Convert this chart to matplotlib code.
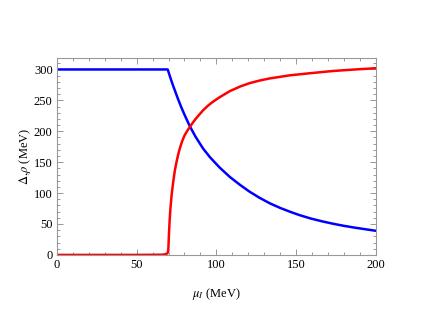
import matplotlib
matplotlib.use("Agg")
import matplotlib.pyplot as plt
from matplotlib.ticker import MultipleLocator

# Data
mu_blue = [0, 69.5, 71, 72.5, 74, 76, 78, 80, 83.4, 87, 91.7, 96, 102, 108.5, 115, 121,
           127, 133.5, 140, 146, 152, 159, 166, 173, 180, 187, 194, 200]
rho_blue = [300, 300, 288, 276.5, 266, 252, 239, 227, 208, 191, 172, 158, 141.5, 126, 113,
            102, 92.5, 83.5, 76, 70, 64.5, 59, 54.5, 50.5, 47, 44, 41.3, 39]

mu_red = [0, 50, 66, 68, 69.3, 69.8, 70.0, 70.3, 70.7, 71.2, 72, 73, 74, 75, 76, 77, 78.5,
          80, 81.7, 83.4, 85, 87, 89, 91.7, 95, 98, 102, 108.5, 115, 121, 127, 133.5,
          146, 159, 173, 187, 200]
delta_red = [0, 0, 0.3, 1, 2.5, 6, 15, 35, 55, 75, 98, 119, 137, 150, 161.5, 171.5, 183.5,
             193, 200.5, 207, 213, 220, 226, 234, 242, 248, 255, 265, 272.5, 278, 282,
             285.5, 290.5, 294, 297.5, 300, 302]

xticks = [0, 50, 100, 150, 200]
yticks = [0, 50, 100, 150, 200, 250, 300]

plt.rcParams['font.family'] = ['Liberation Serif', 'DejaVu Serif']
plt.rcParams['mathtext.fontset'] = 'stix'

fig = plt.figure(figsize=(4.34, 3.12), dpi=100)
ax = fig.add_axes([0.131, 0.183, 0.735, 0.632])

ax.plot(mu_blue, rho_blue, color=(0, 0, 1), lw=1.8, solid_joinstyle='round')
ax.plot(mu_red, delta_red, color=(1, 0, 0), lw=1.8, solid_joinstyle='round')

ax.set_xlim(0, 200)
ax.set_ylim(0, 319)
ax.set_xticks(xticks)
ax.set_yticks(yticks)
ax.xaxis.set_minor_locator(MultipleLocator(10))
ax.yaxis.set_minor_locator(MultipleLocator(10))
ax.tick_params(which='both', direction='in', top=True, right=True, color='#888888',
               labelsize=9, labelcolor='black', width=0.6)
ax.tick_params(which='major', length=4, pad=3)
ax.tick_params(which='minor', length=2)
for s in ax.spines.values():
    s.set_color('#999999')
    s.set_linewidth(0.8)

ax.set_xlabel(r'$\mu_I$ (MeV)', fontsize=9, labelpad=11)
ax.set_ylabel(r'$\Delta,\!\rho$ (MeV)', fontsize=9, labelpad=1)

fig.savefig('out.png', dpi=100)
